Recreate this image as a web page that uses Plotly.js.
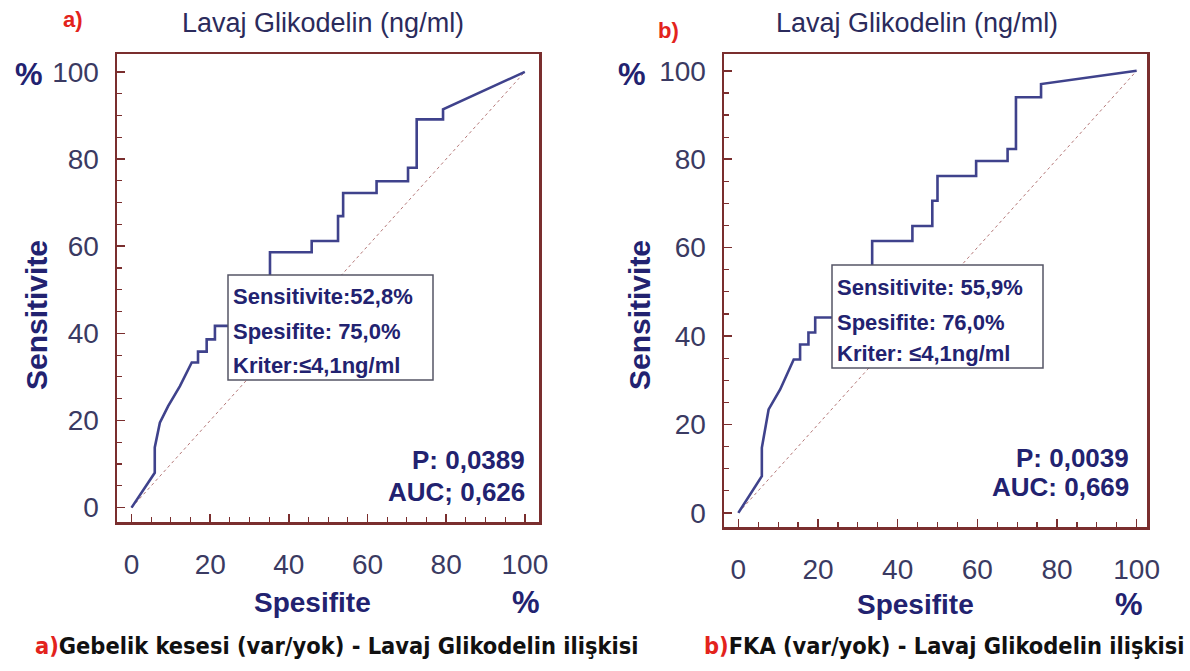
<!DOCTYPE html>
<html>
<head>
<meta charset="utf-8">
<script src="https://cdn.plot.ly/plotly-3.0.1.min.js"></script>
<style>html,body{margin:0;padding:0;background:#fff;}#chart{width:1190px;height:671px;}</style>
</head>
<body>
<div id="chart"></div>
<script>
// ---- data ----
const tickValues = [0, 20, 40, 60, 80, 100];
const tickLabels = ["0", "20", "40", "60", "80", "100"];
const diagonalX = [0, 100];
const diagonalY = [0, 100];

// a) Gebelik kesesi: 100-Spesifite (x) vs Sensitivite (y)
const specA = [0, 5.9, 5.9, 7.2, 9.3, 12.3, 15.3, 16.9, 16.9, 19.1, 19.1, 21.2, 21.2, 25, 27, 27, 29, 29, 32, 32, 35.2, 35.2,
  45.8, 45.8, 52.5, 52.5, 53.8, 53.8, 62.3, 62.3, 70.3, 70.3, 72.5, 72.5, 79.2, 79.2, 100];
const sensA = [0, 8.0, 13.8, 19.5, 23.3, 27.9, 33.3, 33.3, 35.8, 35.8, 38.6, 38.6, 41.7, 41.7, 41.7, 44.4, 44.4, 47.2, 47.2, 50, 50, 58.6,
  58.6, 61.2, 61.2, 66.9, 66.9, 72.2, 72.2, 74.9, 74.9, 78.0, 78.0, 89.1, 89.1, 91.4, 100];

// b) FKA
const specB = [0, 5.9, 5.9, 7.6, 10.5, 13.9, 15.5, 15.5, 17.6, 17.6, 19.3, 19.3, 23.5, 26, 26, 28, 28, 31, 31, 33.6, 33.6,
  43.7, 43.7, 48.7, 48.7, 50.0, 50.0, 59.7, 59.7, 67.6, 67.6, 69.7, 69.7, 76.0, 76.0, 100];
const sensB = [0, 8.3, 14.7, 23.4, 27.9, 34.7, 34.7, 38.1, 38.1, 40.8, 40.8, 44.2, 44.2, 44.2, 47, 47, 50, 50, 52.9, 52.9, 61.5,
  61.5, 64.9, 64.9, 70.6, 70.6, 76.2, 76.2, 79.6, 79.6, 82.3, 82.3, 94.0, 94.0, 97.0, 100];

const titleText = "Lavaj Glikodelin (ng/ml)";
const boxA = ["Sensitivite:52,8%", "Spesifite: 75,0%", "Kriter:≤4,1ng/ml"];
const boxB = ["Sensitivite: 55,9%", "Spesifite: 76,0%", "Kriter: ≤4,1ng/ml"];
const statsA = ["P: 0,0389", "AUC; 0,626"];
const statsB = ["P: 0,0039", "AUC: 0,669"];
const captionA = ["a)", "Gebelik kesesi (var/yok) - Lavaj Glikodelin ilişkisi"];
const captionB = ["b)", "FKA (var/yok) - Lavaj Glikodelin ilişkisi"];

// ---- styling ----
const W = 1190, H = 671;
const px = x => x / W;
const py = y => 1 - y / H;
const FRAME = '#7a2e2e';
const CURVE = '#3f428c';
const NAVY = '#222270';
const TICKC = '#3a3a62';
const RED = '#e3231c';
const SANS = 'Liberation Sans, Arial, sans-serif';
const NARROW = 'DejaVu Sans Condensed, Liberation Sans Narrow, Arial Narrow, Liberation Sans, sans-serif';

function axisX(domain, range, anchor) {
  return {
    domain: domain, range: range, anchor: anchor,
    tickmode: 'array', tickvals: tickValues, ticktext: tickLabels,
    ticks: 'inside', ticklen: 8, tickwidth: 1.5, tickcolor: FRAME,
    minor: {tickmode: 'linear', tick0: 0, dtick: 5, ticks: 'inside', ticklen: 5, tickwidth: 1.2, tickcolor: FRAME},
    showline: true, mirror: true, linecolor: FRAME, linewidth: 2.5,
    showgrid: false, zeroline: false, fixedrange: true,
    tickfont: {family: SANS, size: 28, color: TICKC},
    ticklabelstandoff: 16
  };
}
function axisY(domain, range, anchor) {
  return {
    domain: domain, range: range, anchor: anchor,
    tickmode: 'array', tickvals: tickValues, ticktext: tickLabels,
    ticks: 'inside', ticklen: 8, tickwidth: 1.5, tickcolor: FRAME,
    minor: {tickmode: 'linear', tick0: 0, dtick: 5, ticks: 'inside', ticklen: 5, tickwidth: 1.2, tickcolor: FRAME},
    showline: true, mirror: true, linecolor: FRAME, linewidth: 2.5,
    showgrid: false, zeroline: false, fixedrange: true,
    tickfont: {family: SANS, size: 28, color: TICKC},
    ticklabelstandoff: 10
  };
}

const traces = [
  {x: diagonalX, y: diagonalY, xaxis: 'x', yaxis: 'y', mode: 'lines', line: {color: '#b57878', width: 1, dash: 'dot'}, hoverinfo: 'skip'},
  {x: specA, y: sensA, xaxis: 'x', yaxis: 'y', mode: 'lines', line: {color: CURVE, width: 2.6}},
  {x: diagonalX, y: diagonalY, xaxis: 'x2', yaxis: 'y2', mode: 'lines', line: {color: '#b57878', width: 1, dash: 'dot'}, hoverinfo: 'skip'},
  {x: specB, y: sensB, xaxis: 'x2', yaxis: 'y2', mode: 'lines', line: {color: CURVE, width: 2.6}}
];

function ann(text, x, y, opts) {
  return Object.assign({text: text, x: px(x), y: py(y), xref: 'paper', yref: 'paper', showarrow: false,
    xanchor: 'center', yanchor: 'middle'}, opts || {});
}
function boldFont(size, color) { return {family: SANS, size: size, color: color || NAVY}; }

const annotations = [];
const shapes = [];
function panel(o) {
  annotations.push(ann('<b>' + o.letter + '</b>', o.letterX, o.letterY, {font: boldFont(22, RED)}));
  annotations.push(ann(titleText, o.titleX, 23, {font: {family: SANS, size: 27, color: '#2b2b5c'}}));
  annotations.push(ann('<b>%</b>', o.pctX, o.pctY, {font: boldFont(31)}));
  annotations.push(ann('<b>Sensitivite</b>', o.ytX, 315, {textangle: -90, font: boldFont(30)}));
  annotations.push(ann('<b>Spesifite</b>', o.xtX, o.xtY, {font: boldFont(28)}));
  annotations.push(ann('<b>%</b>', o.pct2X, o.xtY, {font: boldFont(31)}));
  annotations.push(ann('<b>' + o.stats[0] + '</b>', o.statsR, o.statsY[0], {xanchor: 'right', font: boldFont(26)}));
  annotations.push(ann('<b>' + o.stats[1] + '</b>', o.statsR, o.statsY[1], {xanchor: 'right', font: boldFont(26)}));
  shapes.push({type: 'rect', xref: 'paper', yref: 'paper', x0: px(o.box[0]), x1: px(o.box[1]), y0: py(o.box[3]), y1: py(o.box[2]),
    fillcolor: '#ffffff', line: {color: '#555566', width: 1.5}, layer: 'above'});
  o.boxText.forEach((t, i) => {
    annotations.push(ann('<b>' + t + '</b>', o.box[0] + 3, o.boxLines[i], {xanchor: 'left', font: boldFont(22)}));
  });
  annotations.push(ann('<b><span style="color:' + RED + '">' + o.caption[0] + '</span>' + o.caption[1] + '</b>', o.capX, 646,
    {font: {family: NARROW, size: 23.4, color: '#111111'}}));
}

panel({letter: 'a)', letterX: 73, letterY: 20, titleX: 323, pctX: 29, pctY: 74, ytX: 36, xtX: 312, xtY: 602, pct2X: 526,
  stats: statsA, statsR: 527, statsY: [460, 492], box: [228, 433, 275, 380], boxText: boxA, boxLines: [296, 331, 365],
  caption: captionA, capX: 336});
panel({letter: 'b)', letterX: 668, letterY: 30, titleX: 917, pctX: 632, pctY: 75, ytX: 639, xtX: 915, xtY: 604, pct2X: 1129,
  stats: statsB, statsR: 1131, statsY: [458, 487], box: [832, 1043, 265, 368], boxText: boxB, boxLines: [287, 322, 353],
  caption: captionB, capX: 944});

const layout = {
  width: W, height: H, autosize: false,
  margin: {l: 0, r: 0, t: 0, b: 0},
  paper_bgcolor: '#ffffff', plot_bgcolor: '#ffffff',
  showlegend: false,
  xaxis: axisX([px(117), px(539)], [-3.7, 103.6], 'y'),
  yaxis: axisY([py(522), py(54)], [-3.3, 104.1], 'x'),
  xaxis2: axisX([px(724), px(1147)], [-3.6, 102.6], 'y2'),
  yaxis2: axisY([py(527), py(54)], [-3.2, 103.8], 'x2'),
  annotations: annotations,
  shapes: shapes
};

Plotly.newPlot('chart', traces, layout, {displayModeBar: false, staticPlot: true});
</script>
</body>
</html>
